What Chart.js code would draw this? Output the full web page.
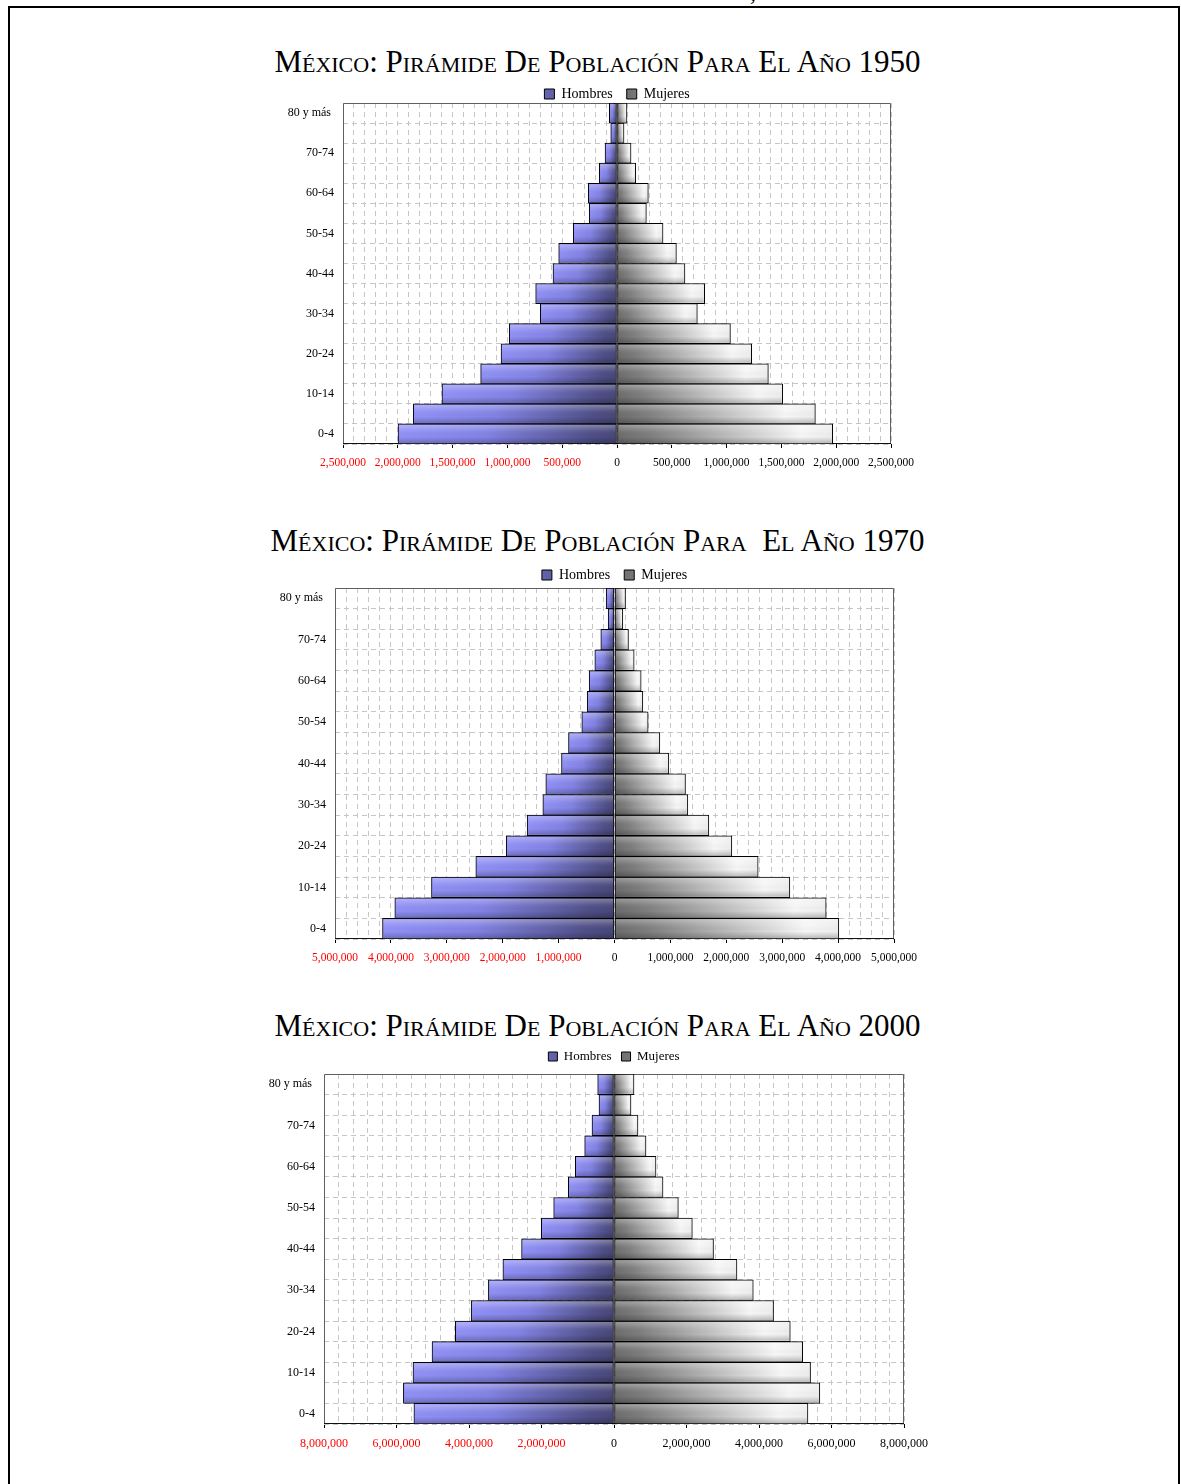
<!DOCTYPE html>
<html lang="es">
<head>
<meta charset="utf-8">
<title>México: pirámides de población 1950, 1970 y 2000</title>
<script src="https://cdn.jsdelivr.net/npm/chart.js@4.4.1/dist/chart.umd.min.js"></script>
<style>
  html, body { margin: 0; padding: 0; background: #fff; }
  body {
    width: 1181px; height: 1484px; position: relative; overflow: hidden;
    font-family: 'Liberation Serif', 'Times New Roman', serif;
  }
  .marco {
    position: absolute; left: 8px; top: 6px; width: 1172px; height: 1520px;
    border: 2px solid #000; box-sizing: border-box;
  }
  .encabezado {
    position: absolute; left: 0; width: 1195px; text-align: center;
    font-variant: small-caps; color: #000; white-space: pre; line-height: 1;
  }
  .sup { left: 0; width: 1286px; top: -20px; font-size: 24px; }
  .titulo { font-size: 31px; }
  canvas { position: absolute; }
</style>
</head>
<body>
<div class="marco"></div>
<div class="encabezado sup">Pirámides De Población En México, 1950 A 2000</div>

<div class="encabezado titulo" id="t1950">México: Pirámide De Población Para El Año 1950</div>
<canvas id="g1950"></canvas>

<div class="encabezado titulo" id="t1970">México: Pirámide De Población Para  El Año 1970</div>
<canvas id="g1970"></canvas>

<div class="encabezado titulo" id="t2000">México: Pirámide De Población Para El Año 2000</div>
<canvas id="g2000"></canvas>

<script>
// Grupos quinquenales de edad (de abajo hacia arriba en la pirámide)
const edades = ['0-4', '5-9', '10-14', '15-19', '20-24', '25-29', '30-34', '35-39',
                '40-44', '45-49', '50-54', '55-59', '60-64', '65-69', '70-74', '75-79', '80 y más'];

// Población por sexo y grupo de edad
const hombres1950 = [1998000, 1859000, 1597000, 1244000, 1058000, 983000, 700000, 742000,
                     584000, 532000, 399000, 253000, 262000, 161000, 109000, 57000, 70000];
const mujeres1950 = [1968000, 1810000, 1512000, 1381000, 1229000, 1035000, 733000, 800000,
                     620000, 542000, 420000, 268000, 286000, 171000, 128000, 64000, 91000];

const hombres1970 = [4150000, 3930000, 3274000, 2481000, 1937000, 1562000, 1282000, 1229000,
                     948000, 823000, 585000, 488000, 453000, 352000, 245000, 113000, 149000];
const mujeres1970 = [4013000, 3787000, 3137000, 2570000, 2099000, 1688000, 1312000, 1270000,
                     972000, 811000, 602000, 507000, 477000, 352000, 250000, 149000, 197000];

const hombres2000 = [5520000, 5810000, 5545000, 5020000, 4378000, 3940000, 3465000, 3065000,
                     2550000, 2005000, 1664000, 1260000, 1067000, 809000, 607000, 414000, 450000];
const mujeres2000 = [5350000, 5678000, 5422000, 5204000, 4863000, 4401000, 3842000, 3392000,
                     2745000, 2161000, 1775000, 1352000, 1159000, 883000, 662000, 469000, 552000];

// Escalas del eje horizontal: límite, intervalo rotulado y subdivisión de la cuadrícula
const eje1950 = [2500000, 500000, 100000];
const eje1970 = [5000000, 1000000, 200000];
const eje2000 = [8000000, 2000000, 400000];

const SERIF = "'Liberation Serif', 'Times New Roman', serif";
const miles = v => Math.abs(v).toLocaleString('en-US');

// Degradado horizontal de cada barra: oscuro junto al eje central, claro hacia el extremo
function degradado(paradas, liso) {
  return (c) => {
    if (c.type !== 'data') return liso;
    const xs = c.chart.scales.x;
    if (!xs) return liso;
    const p0 = xs.getPixelForValue(0);
    const p1 = xs.getPixelForValue(c.raw);
    if (!isFinite(p0) || !isFinite(p1) || Math.abs(p1 - p0) < 1) return liso;
    const g = c.chart.ctx.createLinearGradient(p0, 0, p1, 0);
    paradas.forEach(([o, col]) => g.addColorStop(o, col));
    return g;
  };
}
const azul = degradado([[0, '#474778'], [0.12, '#4f4f88'], [0.6, '#8282e4'], [1, '#9191f6']], '#7c7cdc');
const gris = degradado([[0, '#6c6c6c'], [0.15, '#7e7e7e'], [0.85, '#f6f6f6'], [1, '#ececec']], '#c4c4c4');

// Brillo vertical sobre cada barra
const brillo = {
  id: 'brillo',
  afterDatasetsDraw(chart) {
    const ctx = chart.ctx;
    chart.data.datasets.forEach((ds, i) => {
      chart.getDatasetMeta(i).data.forEach(bar => {
        const {x, y, base, height} = bar.getProps(['x', 'y', 'base', 'height'], true);
        const l = Math.min(x, base) + 1, r = Math.max(x, base) - 1;
        const t = y - height / 2 + 1, b = y + height / 2 - 1;
        if (r <= l || b <= t) return;
        const g = ctx.createLinearGradient(0, t, 0, b);
        g.addColorStop(0, 'rgba(255,255,255,0.30)');
        g.addColorStop(0.35, 'rgba(255,255,255,0.05)');
        g.addColorStop(0.65, 'rgba(0,0,0,0)');
        g.addColorStop(1, 'rgba(0,0,0,0.22)');
        ctx.save();
        ctx.fillStyle = g;
        ctx.fillRect(l, t, r - l, b - t);
        ctx.restore();
      });
    });
  }
};

// Marco del área de trazado
const marcoArea = {
  id: 'marcoArea',
  beforeDatasetsDraw(chart) {
    const {ctx, chartArea: a} = chart;
    const l = Math.round(a.left) + 0.5, r = Math.round(a.right) - 0.5;
    const t = Math.round(a.top) + 0.5, b = Math.round(a.bottom) - 0.5;
    ctx.save();
    ctx.lineWidth = 1;
    ctx.strokeStyle = '#606060';
    ctx.beginPath();
    ctx.moveTo(l, b); ctx.lineTo(l, t); ctx.lineTo(r, t); ctx.lineTo(r, b);
    ctx.stroke();
    ctx.strokeStyle = '#111';
    ctx.beginPath();
    ctx.moveTo(l - 0.5, b); ctx.lineTo(r + 0.5, b);
    ctx.stroke();
    ctx.restore();
  }
};

// Acerca la leyenda al área de trazado
const leyendaAjustada = {
  id: 'leyendaAjustada',
  beforeLayout(chart, args, opts) {
    const lg = chart.legend;
    if (!lg || lg._ajustada) return;
    const fit = lg.fit;
    lg.fit = function () { fit.call(this); this.height -= (opts.recorte || 0); };
    lg._ajustada = true;
  }
};

function piramide(id, hombres, mujeres, eje, caja) {
  const [limite, principal, menor] = eje;
  const el = document.getElementById(id);
  el.width = caja.ancho; el.height = caja.alto;
  el.style.left = caja.x + 'px'; el.style.top = caja.y + 'px';
  const esPrincipal = v => Math.abs(Math.round(v)) % principal === 0;

  return new Chart(el, {
    type: 'bar',
    data: {
      labels: edades,
      datasets: [
        { label: 'Hombres', data: hombres.map(v => -v), backgroundColor: azul },
        { label: 'Mujeres', data: mujeres, backgroundColor: gris }
      ]
    },
    options: {
      indexAxis: 'y',
      responsive: false,
      animation: false,
      devicePixelRatio: 1,
      layout: { padding: { left: 10, right: 40, top: 0, bottom: 0 } },
      datasets: {
        bar: {
          borderColor: '#000', borderWidth: 1, borderSkipped: false,
          barPercentage: 1, categoryPercentage: 1
        }
      },
      scales: {
        x: {
          type: 'linear', stacked: true, min: -limite, max: limite,
          afterFit: s => { s.height = 30; },
          border: { display: false, dash: [5, 4] },
          grid: {
            color: '#c6c6c6', lineWidth: 1, tickLength: 4, tickWidth: 1,
            tickColor: c => (c.tick && esPrincipal(c.tick.value)) ? '#000' : 'rgba(0,0,0,0)'
          },
          ticks: {
            stepSize: menor, autoSkip: false, maxRotation: 0, minRotation: 0,
            padding: caja.pt,
            font: { family: SERIF, size: caja.fx },
            color: c => (c.tick && c.tick.value < 0) ? '#ff0000' : '#000',
            callback: v => esPrincipal(v) ? miles(v) : ''
          }
        },
        y: {
          stacked: true, reverse: true,
          afterFit: s => { s.width = caja.ay; },
          border: { display: false, dash: [5, 4] },
          grid: { color: '#c6c6c6', lineWidth: 1, drawTicks: false, offset: true },
          ticks: {
            autoSkip: false, padding: 9,
            font: { family: SERIF, size: 12 }, color: '#000',
            callback: (v, i) => i % 2 === 0 ? edades[i] + (i === edades.length - 1 ? ' ' : '') : ''
          }
        }
      },
      plugins: {
        tooltip: { enabled: false },
        title: { display: false },
        legend: {
          position: 'top', fullSize: false, align: 'center',
          labels: {
            font: { family: SERIF, size: caja.fl }, color: '#000',
            boxWidth: caja.bl, boxHeight: caja.bl, padding: caja.pl
          }
        },
        leyendaAjustada: { recorte: caja.rl }
      }
    },
    plugins: [marcoArea, brillo, leyendaAjustada]
  });
}

function colocaTitulo(id, base) {
  document.getElementById(id).style.top = (base - 26) + 'px';
}
colocaTitulo('t1950', 72);
colocaTitulo('t1970', 551);
colocaTitulo('t2000', 1036);

piramide('g1950', hombres1950, mujeres1950, eje1950,
  { x: 257, y: 73, ancho: 674, alto: 401, ay: 76, fx: 11.5, pt: 8, fl: 14, bl: 10, pl: 14, rl: 8 });
piramide('g1970', hombres1970, mujeres1970, eje1970,
  { x: 235, y: 554, ancho: 699, alto: 415, ay: 90, fx: 11.5, pt: 8, fl: 14, bl: 10, pl: 14, rl: 4 });
piramide('g2000', hombres2000, mujeres2000, eje2000,
  { x: 224, y: 1040, ancho: 720, alto: 414, ay: 90, fx: 12, pt: 9, fl: 13, bl: 9, pl: 10, rl: -1 });
</script>
</body>
</html>
